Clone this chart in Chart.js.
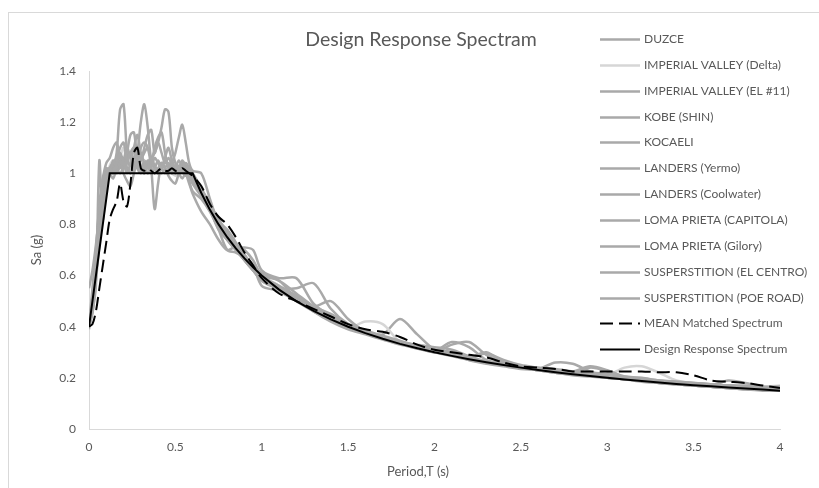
<!DOCTYPE html>
<html>
<head>
<meta charset="utf-8">
<script src="https://cdn.jsdelivr.net/npm/chart.js@4.4.0/dist/chart.umd.min.js"></script>
<style>
  html, body { margin: 0; padding: 0; background: #ffffff; }
  #wrap { width: 819px; height: 488px; position: relative; }
</style>
</head>
<body>
<div id="wrap"><canvas id="spectrum" width="819" height="488"></canvas></div>
<script>
// Period grid (s) shared by every spectrum
const periods = [
  0, 0.02, 0.04, 0.06, 0.08, 0.1, 0.12, 0.14, 0.16, 0.18, 0.2, 0.22, 0.24, 0.26, 0.28, 0.3,
  0.32, 0.34, 0.36, 0.38, 0.4, 0.42, 0.44, 0.46, 0.48, 0.5, 0.52, 0.54, 0.56, 0.58, 0.6,
  0.65, 0.7, 0.75, 0.8, 0.85, 0.9, 0.95, 1,
  1.1, 1.2, 1.3, 1.4, 1.5, 1.6, 1.7, 1.8, 1.9, 2, 2.1, 2.2, 2.3, 2.4, 2.5, 2.6, 2.7, 2.8, 2.9, 3,
  3.1, 3.2, 3.3, 3.4, 3.5, 3.6, 3.7, 3.8, 3.9, 4
];

// Spectral acceleration Sa (g) of each scaled record
const duzce = [
  0.42, 0.46, 0.62, 0.80, 0.92, 0.98, 1.00, 1.02, 1.08, 1.25, 1.27, 1.08, 1.02, 1.04, 1.06, 1.02,
  1.05, 1.03, 1.00, 1.02, 1.05, 1.02, 1.00, 1.02, 1.03, 1.01, 1.00, 1.02, 1.03, 1.00, 0.98,
  0.93, 0.86, 0.79, 0.74, 0.70, 0.67, 0.63, 0.60,
  0.55, 0.50, 0.47, 0.43, 0.40, 0.38, 0.37, 0.43, 0.37, 0.31, 0.29, 0.28, 0.26, 0.25, 0.24,
  0.23, 0.225, 0.215, 0.21, 0.20, 0.195, 0.19, 0.185, 0.18, 0.175, 0.17, 0.165, 0.16, 0.16, 0.155
];
const imperialDelta = [
  0.40, 0.48, 0.62, 0.78, 0.90, 0.98, 1.03, 1.05, 1.02, 1.06, 1.10, 1.04, 1.02, 1.06, 1.04, 1.08,
  1.04, 1.02, 1.05, 1.02, 1.00, 1.03, 1.05, 1.02, 1.00, 0.99, 1.01, 1.03, 1.00, 0.99, 0.97,
  0.91, 0.85, 0.80, 0.76, 0.71, 0.67, 0.64, 0.60,
  0.56, 0.51, 0.46, 0.43, 0.395, 0.42, 0.41, 0.34, 0.32, 0.30, 0.29, 0.27, 0.265, 0.25, 0.24,
  0.23, 0.225, 0.215, 0.21, 0.21, 0.24, 0.245, 0.22, 0.19, 0.18, 0.175, 0.17, 0.165, 0.165, 0.17
];
const imperialEl11 = [
  0.40, 0.52, 0.66, 0.82, 0.94, 1.00, 1.02, 1.00, 1.04, 1.02, 1.05, 1.10, 1.06, 1.02, 1.08, 1.20,
  1.27, 1.18, 1.05, 1.02, 1.00, 1.04, 1.02, 1.00, 1.02, 1.00, 1.03, 1.01, 0.99, 1.00, 0.98,
  0.92, 0.86, 0.80, 0.75, 0.72, 0.70, 0.66, 0.60,
  0.56, 0.52, 0.47, 0.44, 0.41, 0.38, 0.36, 0.34, 0.32, 0.30, 0.33, 0.34, 0.29, 0.26, 0.245,
  0.235, 0.225, 0.22, 0.21, 0.20, 0.195, 0.19, 0.185, 0.18, 0.175, 0.17, 0.17, 0.165, 0.16, 0.16
];
const kobeShin = [
  0.41, 0.46, 0.56, 1.05, 0.82, 0.96, 1.02, 1.04, 1.01, 1.03, 1.06, 1.02, 1.00, 1.03, 1.05, 1.02,
  1.00, 1.04, 1.06, 1.03, 1.01, 1.00, 1.02, 1.04, 1.02, 1.00, 1.02, 1.00, 1.02, 1.01, 1.00,
  0.94, 0.87, 0.80, 0.75, 0.70, 0.66, 0.62, 0.59,
  0.54, 0.50, 0.46, 0.43, 0.40, 0.38, 0.355, 0.335, 0.32, 0.305, 0.29, 0.275, 0.26, 0.25, 0.24,
  0.235, 0.26, 0.255, 0.225, 0.205, 0.195, 0.19, 0.185, 0.18, 0.17, 0.165, 0.16, 0.16, 0.155, 0.155
];
const kocaeli = [
  0.43, 0.50, 0.64, 0.80, 0.90, 0.97, 1.00, 1.03, 1.06, 1.04, 1.02, 1.05, 1.08, 1.04, 1.02, 1.05,
  1.08, 1.10, 1.06, 1.08, 1.12, 1.18, 1.25, 1.24, 1.10, 1.04, 1.02, 1.05, 1.03, 1.00, 0.96,
  0.91, 0.87, 0.82, 0.77, 0.72, 0.68, 0.63, 0.60,
  0.58, 0.51, 0.47, 0.44, 0.41, 0.38, 0.36, 0.34, 0.32, 0.30, 0.295, 0.27, 0.255, 0.245, 0.235,
  0.23, 0.22, 0.215, 0.24, 0.225, 0.20, 0.19, 0.18, 0.175, 0.17, 0.165, 0.16, 0.155, 0.155, 0.15
];
const landersYermo = [
  0.40, 0.47, 0.60, 0.74, 0.88, 0.96, 1.00, 1.02, 1.00, 1.03, 1.05, 1.02, 1.00, 1.02, 1.04, 1.01,
  1.02, 1.05, 1.02, 1.00, 1.02, 1.04, 1.02, 1.00, 1.04, 1.08, 1.14, 1.19, 1.12, 1.04, 1.01,
  1.00, 0.90, 0.80, 0.74, 0.70, 0.66, 0.62, 0.58,
  0.55, 0.52, 0.48, 0.50, 0.43, 0.38, 0.36, 0.34, 0.32, 0.31, 0.30, 0.28, 0.30, 0.26, 0.245,
  0.235, 0.225, 0.22, 0.21, 0.205, 0.20, 0.19, 0.185, 0.18, 0.175, 0.17, 0.165, 0.16, 0.16, 0.16
];
const landersCoolwater = [
  0.40, 0.55, 0.70, 0.86, 0.96, 1.02, 1.00, 1.05, 1.02, 1.00, 1.03, 1.08, 1.15, 1.16, 1.06, 1.02,
  1.00, 1.03, 1.05, 1.02, 1.00, 1.02, 1.05, 1.03, 1.00, 1.02, 1.00, 0.98, 1.00, 0.99, 0.97,
  0.93, 0.86, 0.78, 0.74, 0.71, 0.71, 0.70, 0.62,
  0.59, 0.59, 0.49, 0.44, 0.40, 0.38, 0.36, 0.34, 0.32, 0.305, 0.34, 0.32, 0.27, 0.255, 0.24,
  0.235, 0.23, 0.22, 0.215, 0.205, 0.20, 0.195, 0.19, 0.18, 0.175, 0.17, 0.19, 0.18, 0.165, 0.165
];
const lomaCapitola = [
  0.55, 0.62, 0.72, 0.85, 0.97, 1.02, 1.00, 0.98, 1.02, 1.05, 1.00, 0.97, 0.95, 1.00, 1.05, 1.10,
  1.12, 1.10, 1.02, 0.86, 0.96, 1.04, 1.02, 0.99, 0.97, 0.96, 1.00, 1.03, 1.02, 0.97, 0.93,
  0.90, 0.85, 0.78, 0.70, 0.69, 0.67, 0.64, 0.56,
  0.54, 0.51, 0.46, 0.42, 0.39, 0.37, 0.35, 0.33, 0.315, 0.30, 0.285, 0.27, 0.26, 0.25, 0.24,
  0.23, 0.22, 0.21, 0.205, 0.20, 0.195, 0.185, 0.18, 0.175, 0.17, 0.165, 0.16, 0.155, 0.15, 0.15
];
const lomaGilroy = [
  0.40, 0.45, 0.58, 0.72, 0.86, 0.95, 1.00, 1.04, 1.06, 1.10, 1.12, 1.05, 1.03, 1.06, 1.10, 1.05,
  1.10, 1.15, 1.17, 1.08, 1.12, 1.08, 1.04, 1.06, 1.03, 1.00, 1.02, 1.04, 1.01, 0.99, 0.96,
  0.92, 0.86, 0.81, 0.78, 0.73, 0.68, 0.64, 0.61,
  0.58, 0.53, 0.48, 0.45, 0.41, 0.385, 0.365, 0.345, 0.325, 0.31, 0.30, 0.28, 0.295, 0.27, 0.25,
  0.24, 0.23, 0.225, 0.245, 0.23, 0.205, 0.195, 0.19, 0.185, 0.18, 0.175, 0.17, 0.17, 0.165, 0.165
];
const superstitionElCentro = [
  0.40, 0.50, 0.68, 0.88, 0.98, 1.04, 1.06, 1.10, 1.12, 1.06, 1.02, 1.04, 1.08, 1.10, 1.02, 1.00,
  1.04, 1.02, 1.04, 1.10, 1.14, 1.16, 1.08, 1.02, 1.00, 1.02, 1.05, 1.02, 1.00, 0.96, 0.92,
  0.85, 0.80, 0.74, 0.70, 0.71, 0.66, 0.62, 0.58,
  0.55, 0.52, 0.47, 0.43, 0.40, 0.38, 0.355, 0.335, 0.315, 0.30, 0.29, 0.275, 0.265, 0.25, 0.24,
  0.23, 0.22, 0.215, 0.21, 0.20, 0.195, 0.19, 0.18, 0.175, 0.17, 0.165, 0.16, 0.155, 0.155, 0.15
];
const superstitionPoeRoad = [
  0.39, 0.48, 0.64, 0.84, 0.96, 1.00, 1.02, 1.00, 1.04, 1.08, 1.04, 1.00, 1.04, 1.10, 1.15, 1.08,
  1.04, 1.00, 1.02, 1.06, 1.04, 1.02, 1.06, 1.10, 1.05, 1.02, 1.00, 1.02, 1.04, 1.02, 0.98,
  0.94, 0.88, 0.82, 0.76, 0.72, 0.68, 0.63, 0.58,
  0.55, 0.55, 0.57, 0.47, 0.41, 0.38, 0.36, 0.34, 0.33, 0.32, 0.31, 0.285, 0.265, 0.255, 0.245,
  0.24, 0.235, 0.225, 0.22, 0.215, 0.205, 0.20, 0.19, 0.185, 0.18, 0.175, 0.17, 0.165, 0.16, 0.16
];

// Mean of the matched records
const meanMatched = [
  0.40, 0.41, 0.46, 0.55, 0.64, 0.73, 0.82, 0.86, 0.89, 0.96, 0.89, 0.87, 0.96, 1.08, 1.10, 1.02,
  1.01, 1.02, 1.01, 1.00, 1.01, 1.02, 1.01, 1.01, 1.02, 1.01, 1.01, 1.02, 1.01, 1.00, 0.99,
  0.95, 0.88, 0.83, 0.80, 0.75, 0.69, 0.64, 0.59,
  0.53, 0.50, 0.47, 0.44, 0.41, 0.39, 0.38, 0.36, 0.33, 0.31, 0.30, 0.29, 0.28, 0.26, 0.245,
  0.24, 0.235, 0.225, 0.225, 0.225, 0.225, 0.225, 0.222, 0.222, 0.21, 0.19, 0.185, 0.18, 0.17, 0.16
];

// Target design spectrum
const designSpectrum = [
  0.40, 0.50, 0.60, 0.70, 0.80, 0.90, 1.00, 1.00, 1.00, 1.00, 1.00, 1.00, 1.00, 1.00, 1.00, 1.00,
  1.00, 1.00, 1.00, 1.00, 1.00, 1.00, 1.00, 1.00, 1.00, 1.00, 1.00, 1.00, 1.00, 1.00, 1.00,
  0.923, 0.857, 0.80, 0.75, 0.706, 0.667, 0.632, 0.60,
  0.545, 0.50, 0.462, 0.429, 0.40, 0.375, 0.353, 0.333, 0.316, 0.30, 0.286, 0.273, 0.261, 0.25, 0.24,
  0.231, 0.222, 0.214, 0.207, 0.20, 0.194, 0.188, 0.182, 0.176, 0.171, 0.167, 0.162, 0.158, 0.154, 0.15
];

const seriesNames = [
  'DUZCE', 'IMPERIAL VALLEY (Delta)', 'IMPERIAL VALLEY (EL #11)', 'KOBE (SHIN)', 'KOCAELI',
  'LANDERS (Yermo)', 'LANDERS (Coolwater)', 'LOMA PRIETA (CAPITOLA)', 'LOMA PRIETA (Gilory)',
  'SUSPERSTITION (EL CENTRO)', 'SUSPERSTITION (POE ROAD)', 'MEAN Matched Spectrum', 'Design Response Spectrum'
];
const seriesValues = [
  duzce, imperialDelta, imperialEl11, kobeShin, kocaeli, landersYermo, landersCoolwater,
  lomaCapitola, lomaGilroy, superstitionElCentro, superstitionPoeRoad, meanMatched, designSpectrum
];

const TEXT = '#595959';
const FONT = 'Lato, "Open Sans", sans-serif';

function styleFor(i) {
  if (i === 12) return { color: '#000000', width: 2, dash: [], tension: 0 };
  if (i === 11) return { color: '#000000', width: 2, dash: [13, 6], tension: 0.3 };
  if (i === 1) return { color: '#d6d6d6', width: 2.5, dash: [], tension: 0.3 };
  return { color: '#a9a9a9', width: 2.5, dash: [], tension: 0.3 };
}

const datasets = seriesValues.map((vals, i) => {
  const s = styleFor(i);
  return {
    label: seriesNames[i],
    data: periods.map((t, k) => ({ x: t, y: vals[k] })),
    borderColor: s.color,
    borderWidth: s.width,
    borderDash: s.dash,
    tension: s.tension,
    pointRadius: 0,
    fill: false,
    order: seriesValues.length - i
  };
});

// Plain number labels: 0, 0.5, 1 ...
const plainTick = (v) => String(Number(Number(v).toFixed(2)));

// Frame, title, axis caption and legend drawn onto the canvas
const chromePlugin = {
  id: 'chrome',
  beforeDraw(chart) {
    const ctx = chart.ctx;
    ctx.save();
    ctx.fillStyle = '#ffffff';
    ctx.fillRect(0, 0, chart.width, chart.height);
    ctx.strokeStyle = '#d9d9d9';
    ctx.lineWidth = 1;
    ctx.strokeRect(8.5, 12.5, chart.width + 20, chart.height + 20);
    ctx.restore();
  },
  afterDraw(chart) {
    const ctx = chart.ctx;
    ctx.save();
    ctx.fillStyle = TEXT;
    ctx.textBaseline = 'middle';
    ctx.textAlign = 'center';
    ctx.font = '19.5px ' + FONT;
    ctx.fillText('Design Response Spectram', 421, 40);
    ctx.font = '13px ' + FONT;
    ctx.fillText('Period,T (s)', 418, 472);

    ctx.textAlign = 'left';
    ctx.font = '12px ' + FONT;
    chart.data.datasets.forEach((ds, i) => {
      const y = Math.round(39 + i * 25.85) + 0.5;
      ctx.save();
      ctx.strokeStyle = ds.borderColor;
      ctx.lineWidth = ds.borderWidth;
      ctx.setLineDash(ds.borderDash || []);
      ctx.beginPath();
      ctx.moveTo(600, y);
      ctx.lineTo(640, y);
      ctx.stroke();
      ctx.restore();
      ctx.fillText(ds.label, 644, y);
    });
    ctx.restore();
  }
};

new Chart(document.getElementById('spectrum'), {
  type: 'line',
  data: { datasets },
  options: {
    responsive: false,
    maintainAspectRatio: false,
    animation: false,
    layout: { padding: { left: 24, right: 39, top: 71, bottom: 0 } },
    plugins: {
      legend: { display: false },
      title: { display: false },
      tooltip: { enabled: false }
    },
    scales: {
      x: {
        type: 'linear',
        min: 0,
        max: 4,
        ticks: { stepSize: 0.5, color: TEXT, font: { family: FONT, size: 12 }, padding: 11, maxRotation: 0, callback: plainTick },
        grid: { display: false, drawTicks: false },
        border: { display: true, color: '#d9d9d9', width: 1 },
        afterFit(scale) { scale.height = 59; }
      },
      y: {
        min: 0,
        max: 1.4,
        ticks: { stepSize: 0.2, color: TEXT, font: { family: FONT, size: 12 }, padding: 13, callback: plainTick },
        grid: { display: false, drawTicks: false },
        border: { display: true, color: '#d9d9d9', width: 1 },
        title: { display: true, text: 'Sa (g)', color: TEXT, font: { family: FONT, size: 13 }, padding: { top: 5, bottom: 0 } },
        afterFit(scale) { scale.width = 65; }
      }
    }
  },
  plugins: [chromePlugin]
});
</script>
</body>
</html>
